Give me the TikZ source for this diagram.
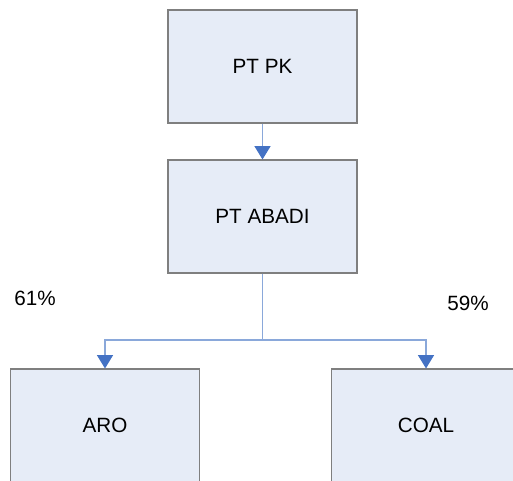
\documentclass[tikz,border=0pt]{standalone}
\usepackage{fontspec}
\setmainfont{Liberation Sans}
\usetikzlibrary{arrows.meta}
\definecolor{boxfill}{HTML}{E6ECF7}
\definecolor{boxline}{HTML}{7F7F7F}
\definecolor{linkline}{HTML}{8AA8DA}
\definecolor{linkhead}{HTML}{4472C4}
\tikzset{
    orgbox/.style={draw=boxline, fill=boxfill, line width=0.8pt, minimum width=141.75pt, minimum height=84.75pt, inner sep=0pt, font=\fontsize{15.5}{18}\selectfont},
    link/.style={draw=linkline, line width=0.8pt, -{Triangle[width=12pt,length=10pt,fill=linkhead,color=linkhead]}},
    pct/.style={inner sep=0pt, font=\fontsize{15.5}{18}\selectfont}
}
\begin{document}
\begin{tikzpicture}[x=0.75pt,y=0.75pt,yscale=-1,xscale=1]
        \useasboundingbox (0,0) rectangle (513,480);
        \clip (0,0) rectangle (513,480);
        % boxes
        \node [orgbox] (pk) at (262.5,66.5) {PT PK};
        \node [orgbox] (abadi) at (262.5,216.5) {PT ABADI};
        \node [orgbox] (aro) at (105,425.5) {ARO};
        \node [orgbox] (coal) at (426,425.5) {COAL};
        % links
        \coordinate (split) at (262.5,340);
        \draw [link] (pk) -- (abadi);
        \draw [link, -] (abadi) -- (split);
        \draw [link] (split) -| (aro);
        \draw [link] (split) -| (coal);
        % shares
        \node [pct] (pcta) at (35,298) {61\%};
        \node [pct] (pctc) at (468,303) {59\%};
\end{tikzpicture}
\end{document}
